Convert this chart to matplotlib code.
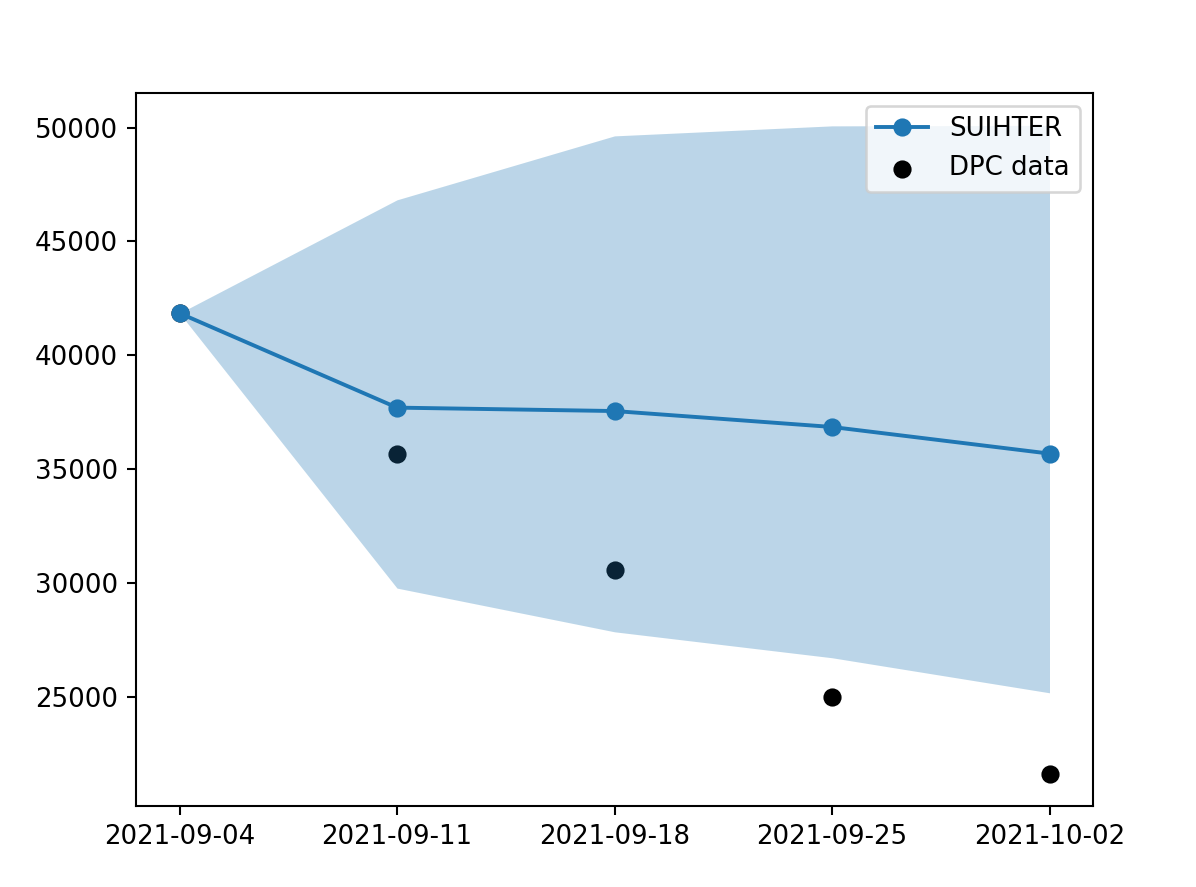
import matplotlib
matplotlib.use("Agg")
import matplotlib.pyplot as plt
import matplotlib.dates as mdates
import numpy as np
import pandas as pd

dates = ["2021-09-04", "2021-09-11", "2021-09-18", "2021-09-25", "2021-10-02"]
suihter = [41850, 37700, 37550, 36850, 35680]
band_low = [41850, 29770, 27850, 26710, 25170]
band_high = [41850, 46830, 49640, 50080, 50100]
dpc = [41850, 35660, 30580, 25000, 21620]

x = pd.to_datetime(dates)

dpi = 187
fig = plt.figure(figsize=(1196 / dpi, 887 / dpi), dpi=dpi)
ax = fig.add_axes([136 / 1196, 1 - 806 / 887, (1093 - 136) / 1196, (806 - 93) / 887])

sc = ax.scatter(x, dpc, color="black", label="DPC data")
ax.fill_between(x, band_low, band_high, color="tab:blue", alpha=0.3, linewidth=0)
ln, = ax.plot(x, suihter, "o-", color="tab:blue", label="SUIHTER")

ax.set_xticks(x)
ax.xaxis.set_major_formatter(mdates.DateFormatter("%Y-%m-%d"))
ax.legend(handles=[ln, sc], loc="upper right")

fig.savefig("out.png", dpi=dpi)
